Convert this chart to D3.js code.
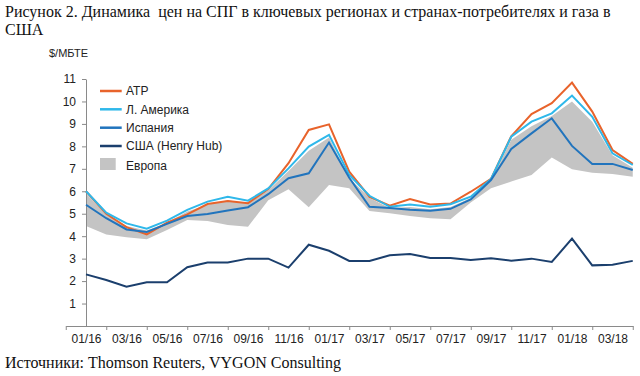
<!DOCTYPE html>
<html lang="ru">
<head>
<meta charset="UTF-8">
<title>Динамика цен на СПГ</title>
<script src="https://cdn.jsdelivr.net/npm/d3@7"></script>
<style>
    body { margin: 0; background: #fff; }
    svg { display: block; }
    .serif { font-family: "Liberation Serif", "Times New Roman", serif; fill: #111; white-space: pre; }
    .sans { font-family: "Liberation Sans", Arial, sans-serif; }
    .axis path, .axis line { stroke: #8a8a8a; }
    .axis text { fill: #222; font-family: "Liberation Sans", Arial, sans-serif; font-size: 12px; }
    .line { fill: none; stroke-width: 2px; stroke-linejoin: miter; }
</style>
</head>
<body>
<svg id="chart" width="640" height="376"></svg>
<script>
// month index 0 = 01/16 ... 27 = 04/18
const xTickLabels = ["01/16", "03/16", "05/16", "07/16", "09/16", "11/16", "01/17",
                     "03/17", "05/17", "07/17", "09/17", "11/17", "01/18", "03/18"];
const yTicks = [1, 2, 3, 4, 5, 6, 7, 8, 9, 10, 11];

const atp = [6.0, 5.0, 4.4, 4.08, 4.6, 4.97, 5.43, 5.57, 5.47, 6.1, 7.25, 8.73, 8.98, 6.87,
             5.75, 5.36, 5.65, 5.41, 5.45, 5.98, 6.55, 8.45, 9.44, 9.92, 10.84, 9.55, 7.84, 7.22];
const latAm = [6.0, 5.05, 4.57, 4.33, 4.69, 5.17, 5.54, 5.76, 5.58, 6.13, 7.02, 7.99, 8.51, 6.73,
               5.8, 5.31, 5.41, 5.31, 5.42, 5.76, 6.55, 8.43, 9.1, 9.47, 10.26, 9.32, 7.69, 7.17];
const spain = [5.4, 4.8, 4.3, 4.19, 4.55, 4.9, 4.99, 5.14, 5.29, 5.87, 6.58, 6.8, 8.17, 6.6,
               5.31, 5.26, 5.18, 5.13, 5.22, 5.64, 6.5, 7.88, 8.58, 9.25, 8.02, 7.22, 7.22, 6.95];
const henryHub = [2.3, 2.05, 1.75, 1.95, 1.95, 2.62, 2.83, 2.83, 3.0, 3.0, 2.6, 3.62, 3.35, 2.9,
                  2.9, 3.15, 3.21, 3.03, 3.03, 2.94, 3.02, 2.91, 3.0, 2.85, 3.89, 2.7, 2.73, 2.9];
const europeLow = [4.45, 4.08, 3.95, 3.86, 4.28, 4.72, 4.68, 4.5, 4.42, 5.6, 6.09, 5.29, 6.28, 6.13,
                   5.12, 5.02, 4.9, 4.8, 4.75, 5.5, 6.13, 6.43, 6.73, 7.5, 6.98, 6.83, 6.77, 6.65];
const europeHigh = [5.9, 4.95, 4.45, 4.25, 4.6, 5.1, 5.4, 5.6, 5.45, 6.05, 6.9, 7.8, 8.4, 6.6,
                    5.7, 5.25, 5.3, 5.2, 5.3, 5.7, 6.45, 8.3, 8.9, 9.35, 10.0, 9.1, 7.6, 7.05];

const seriesNames = ["АТР", "Л. Америка", "Испания", "США (Henry Hub)"];
const areaName = "Европа";

const colors = {
    "АТР": "#e8632b",
    "Л. Америка": "#2fb8ea",
    "Испания": "#2174bd",
    "США (Henry Hub)": "#1b3f6d",
    "Европа": "#c4c4c4"
};

const svg = d3.select("#chart");

// titles
svg.append("text").attr("class", "serif").attr("x", 5).attr("y", 17).style("font-size", "16px")
    .text("Рисунок 2. Динамика  цен на СПГ в ключевых регионах и странах-потребителях и газа в");
svg.append("text").attr("class", "serif").attr("x", 5).attr("y", 35).style("font-size", "16px")
    .text("США");
svg.append("text").attr("class", "serif").attr("x", 5).attr("y", 368).style("font-size", "16px")
    .text("Источники: Thomson Reuters, VYGON Consulting");
svg.append("text").attr("class", "sans").attr("x", 49).attr("y", 57)
    .style("font-size", "11px").style("fill", "#222").text("$/МБТЕ");

const x = d3.scaleLinear().domain([-1, 27]).range([65.75, 632.75]);
const y = d3.scaleLinear().domain([0, 11]).range([326, 79]);

// europe band
const area = d3.area()
    .x((d, i) => x(i))
    .y0(d => y(d[0]))
    .y1(d => y(d[1]));
svg.append("path")
    .datum(europeLow.map((v, i) => [v, europeHigh[i]]))
    .attr("d", area)
    .attr("fill", colors[areaName]);

// axes
svg.append("g").attr("class", "axis").attr("transform", "translate(0,326)")
    .call(d3.axisBottom(x).tickValues(d3.range(-1, 28, 2)).tickSize(4).tickSizeOuter(0).tickFormat(""));
svg.append("g").attr("class", "axis").attr("transform", "translate(0,326)")
    .call(d3.axisBottom(x).tickValues(d3.range(0, 27, 2)).tickSize(0).tickPadding(8.5)
        .tickFormat((d, i) => xTickLabels[i]))
    .call(g => g.select(".domain").remove());
svg.append("g").attr("class", "axis").attr("transform", `translate(${x(0)},0)`)
    .call(d3.axisLeft(y).tickValues(yTicks).tickSize(4).tickPadding(6).tickSizeOuter(0));

// lines
const line = d3.line().x((d, i) => x(i)).y(d => y(d));
const seriesData = [atp, latAm, spain, henryHub];
seriesData.forEach((vals, k) => {
    svg.append("path")
        .attr("class", "line")
        .attr("d", line(vals))
        .attr("stroke", colors[seriesNames[k]]);
});

// legend
const legend = svg.append("g").attr("class", "sans");
const rowY = [91, 109.3, 127.7, 146];
seriesNames.forEach((name, k) => {
    legend.append("line")
        .attr("x1", 100).attr("x2", 121.7).attr("y1", rowY[k]).attr("y2", rowY[k])
        .attr("stroke", colors[name]).attr("stroke-width", 2.5);
    legend.append("text")
        .attr("x", 126).attr("y", rowY[k]).attr("dy", "0.36em")
        .style("font-size", "12px").style("fill", "#222").text(name);
});
legend.append("rect")
    .attr("x", 100).attr("y", 158).attr("width", 15.7).attr("height", 12)
    .attr("fill", colors[areaName]);
legend.append("text")
    .attr("x", 126).attr("y", 165.3).attr("dy", "0.36em")
    .style("font-size", "12px").style("fill", "#222").text(areaName);
</script>
</body>
</html>
